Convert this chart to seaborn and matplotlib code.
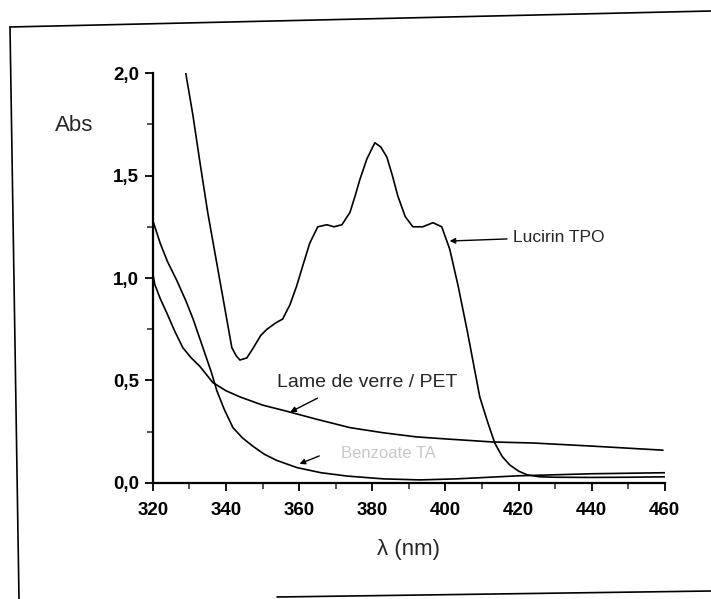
import matplotlib
matplotlib.use("Agg")
import matplotlib.pyplot as plt
import seaborn as sns
import pandas as pd
from matplotlib.lines import Line2D

# Lucirin TPO spectrum
tpo_nm = [328.8, 330.9, 333.0, 335.0, 337.0, 338.9, 340.5, 341.6, 342.8, 343.8, 345.7,
          347.5, 349.5, 351.2, 353.5, 355.5, 357.5, 359.3, 361.0, 362.9, 365.1, 367.6,
          369.5, 371.7, 373.9, 375.3, 376.6, 378.5, 380.7, 382.3, 384.0, 385.5, 387.0,
          389.0, 391.1, 393.8, 396.6, 399.0, 401.2, 403.5, 406.0, 409.4, 411.5, 413.5,
          415.5, 417.6, 420.0, 422.3, 425.8, 430.0, 440.0, 450.0, 460.0]
tpo_abs = [2.02, 1.80, 1.55, 1.32, 1.12, 0.93, 0.77, 0.66, 0.62, 0.60, 0.61,
           0.66, 0.72, 0.75, 0.78, 0.80, 0.87, 0.96, 1.06, 1.17, 1.25, 1.26,
           1.25, 1.26, 1.32, 1.40, 1.48, 1.58, 1.66, 1.64, 1.59, 1.50, 1.40,
           1.30, 1.25, 1.25, 1.27, 1.25, 1.14, 0.96, 0.74, 0.42, 0.30, 0.195,
           0.13, 0.088, 0.058, 0.04, 0.03, 0.028, 0.027, 0.028, 0.03]

# Lame de verre / PET
pet_nm = [320.0, 320.5, 322.0, 323.8, 326.0, 328.2, 330.5, 332.8, 336.4, 340.0, 343.8,
          350.0, 356.6, 365.0, 373.9, 383.0, 392.0, 400.0, 413.0, 424.0, 440.0, 459.5]
pet_abs = [1.02, 0.97, 0.90, 0.83, 0.74, 0.66, 0.61, 0.57, 0.49, 0.45, 0.42,
           0.38, 0.35, 0.31, 0.27, 0.245, 0.225, 0.215, 0.20, 0.195, 0.18, 0.16]

# faint-labelled support
sup_nm = [320.0, 322.0, 324.0, 326.5, 329.0, 331.0, 333.5, 336.0, 337.5, 339.5, 341.9,
          344.5, 347.3, 350.5, 353.9, 359.4, 366.0, 373.0, 383.0, 393.0, 403.0, 420.0,
          440.0, 460.0]
sup_abs = [1.28, 1.17, 1.08, 0.99, 0.89, 0.80, 0.67, 0.54, 0.45, 0.36, 0.27,
           0.22, 0.18, 0.14, 0.11, 0.075, 0.05, 0.034, 0.02, 0.015, 0.02, 0.035,
           0.045, 0.05]

x_ticks = [320, 340, 360, 380, 400, 420, 440, 460]
y_ticks = [0.0, 0.5, 1.0, 1.5, 2.0]
y_labels = ["0,0", "0,5", "1,0", "1,5", "2,0"]

sns.set_style("ticks")
plt.rcParams['font.family'] = ['Liberation Sans', 'DejaVu Sans']

fig = plt.figure(figsize=(7.11, 5.99), dpi=100)
ax = fig.add_axes([0.215, 0.1937, 0.72, 0.6843])

frames = [pd.DataFrame({'nm': tpo_nm, 'abs': tpo_abs}),
          pd.DataFrame({'nm': pet_nm, 'abs': pet_abs}),
          pd.DataFrame({'nm': sup_nm, 'abs': sup_abs})]
for d in frames:
    sns.lineplot(data=d, x='nm', y='abs', ax=ax, color='black', linewidth=1.2,
                 sort=False, estimator=None)

ax.set_xlim(320, 460)
ax.set_ylim(0, 2.0)
ax.set_xticks(x_ticks)
ax.set_xticks(range(330, 460, 20), minor=True)
ax.set_yticks(y_ticks)
ax.set_yticklabels(y_labels)
ax.set_yticks([0.25, 0.75, 1.25, 1.75], minor=True)
ax.tick_params(axis='both', which='major', labelsize=13.5, length=6, width=1.3,
               direction='out', colors='black')
ax.tick_params(axis='x', which='major', pad=8)
ax.tick_params(axis='y', which='major', pad=4)
ax.tick_params(axis='both', which='minor', length=4, width=1.1, direction='out')
for lab in ax.get_xticklabels() + ax.get_yticklabels():
    lab.set_fontweight('bold')
sns.despine(ax=ax)
for s in ['left', 'bottom']:
    ax.spines[s].set_linewidth(1.6)
    ax.spines[s].set_color('black')

ax.set_xlabel("λ (nm)", fontsize=16, labelpad=14)
ax.set_ylabel("")
fig.text(0.077, 0.79, "Abs", fontsize=16, ha='left', va='center')

ax.annotate("Lucirin TPO", xy=(400.4, 1.18), xytext=(418.5, 1.20),
            fontsize=12.5, va='center', ha='left',
            arrowprops=dict(arrowstyle='-|>', color='black', lw=1.0, mutation_scale=8))
ax.annotate("Lame de verre / PET", xy=(356.9, 0.34), xytext=(378.6, 0.49),
            fontsize=14, va='center', ha='center')
ax.annotate("", xy=(356.9, 0.34), xytext=(365.7, 0.42),
            arrowprops=dict(arrowstyle='-|>', color='black', lw=1.0, mutation_scale=8))
ax.annotate("Benzoate TA", xy=(359.4, 0.088), xytext=(384.5, 0.146),
            fontsize=12, va='center', ha='center', color='#c8c8c8')
ax.annotate("", xy=(359.4, 0.088), xytext=(366.2, 0.137),
            arrowprops=dict(arrowstyle='-|>', color='black', lw=1.0, mutation_scale=8))

# scanned page frame
W, H = 711.0, 599.0
frame_lines = [([10, 711], [27, 11]), ([10, 19], [27, 599]), ([277, 711], [597, 591])]
for xs, ys in frame_lines:
    fig.add_artist(Line2D([x / W for x in xs], [1 - y / H for y in ys],
                          color='black', linewidth=1.2))

fig.savefig("out.png", dpi=100)
